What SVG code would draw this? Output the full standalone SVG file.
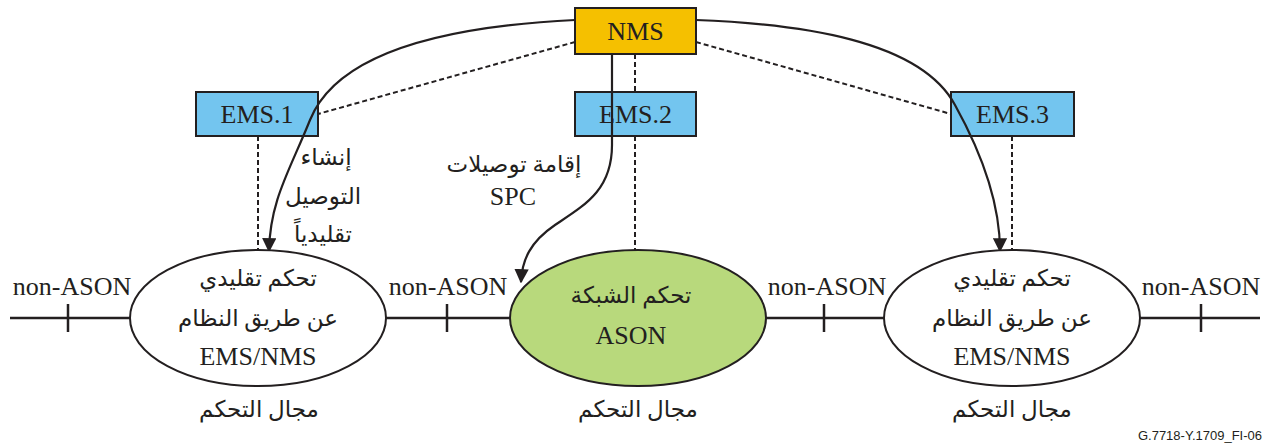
<svg xmlns="http://www.w3.org/2000/svg" width="1270" height="446" viewBox="0 0 1270 446">
  <style>
    .box { stroke: #231f20; stroke-width: 2; }
    .nms { fill: #f5c000; }
    .ems { fill: #73c5ef; }
    .ell { fill: #ffffff; stroke: #231f20; stroke-width: 2; }
    .ason { fill: #b8d97c; stroke: #231f20; stroke-width: 2; }
    .lbl { font-family: "Liberation Serif", "DejaVu Serif", serif; font-size: 26px; fill: #231f20; text-anchor: middle; }
    .ar { font-family: "Liberation Serif", "DejaVu Sans", serif; font-size: 23px; fill: #231f20; text-anchor: middle; direction: rtl; }
    .solid { fill: none; stroke: #231f20; stroke-width: 2.2; }
    .dash { fill: none; stroke: #231f20; stroke-width: 2; stroke-dasharray: 5 3; }
    .line { fill: none; stroke: #231f20; stroke-width: 2.5; }
    .ref { font-family: "Liberation Sans", Arial, sans-serif; font-size: 13px; fill: #231f20; text-anchor: end; }
  </style>
  <defs>
    <marker id="arrow" viewBox="0 0 10 10" refX="9" refY="5" markerWidth="6.5" markerHeight="6.5" markerUnits="strokeWidth" orient="auto">
      <path d="M0,0 L10,5 L0,10 z" fill="#231f20"/>
    </marker>
  </defs>

  <!-- transport line with domain boundaries -->
  <g id="transport">
    <line class="line" x1="10" y1="318" x2="1260" y2="318"/>
    <line class="line" x1="68" y1="304" x2="68" y2="332"/>
    <line class="line" x1="447" y1="304" x2="447" y2="332"/>
    <line class="line" x1="824" y1="304" x2="824" y2="332"/>
    <line class="line" x1="1201" y1="304" x2="1201" y2="332"/>
    <text class="lbl" x="72" y="295">non-ASON</text>
    <text class="lbl" x="448" y="295">non-ASON</text>
    <text class="lbl" x="827" y="295">non-ASON</text>
    <text class="lbl" x="1201" y="295">non-ASON</text>
  </g>

  <g id="nms">
    <rect class="box nms" x="575" y="8" width="121" height="46"/>
    <text class="lbl" x="635.5" y="40">NMS</text>
  </g>
  <g id="ems1">
    <rect class="box ems" x="196" y="92" width="122" height="44"/>
    <text class="lbl" x="257" y="123">EMS.1</text>
  </g>
  <g id="ems2">
    <rect class="box ems" x="575" y="92" width="121" height="44"/>
    <text class="lbl" x="635.5" y="123">EMS.2</text>
  </g>
  <g id="ems3">
    <rect class="box ems" x="951" y="92" width="123" height="44"/>
    <text class="lbl" x="1012.5" y="123">EMS.3</text>
  </g>

  <!-- connectors -->
  <g id="connectors">
    <line class="dash" x1="575" y1="42" x2="318" y2="114"/>
    <line class="dash" x1="696" y1="42" x2="951" y2="114"/>
    <line class="dash" x1="635" y1="54" x2="635" y2="92"/>
    <line class="dash" x1="258" y1="136" x2="258" y2="250"/>
    <line class="dash" x1="635" y1="136" x2="635" y2="250"/>
    <line class="dash" x1="1012" y1="136" x2="1012" y2="250"/>
    <path class="solid" marker-end="url(#arrow)" d="M575,20 C470,25 340,45 310,120 C290,170 270,200 269,251"/>
    <path class="solid" marker-end="url(#arrow)" d="M696,20 C800,24 920,40 955,105 C980,150 1000,200 1000,251"/>
    <path class="solid" marker-end="url(#arrow)" d="M612,54 L612,145 C612,190 585,205 555,225 C530,242 522,260 521,282"/>
  </g>

  <g id="label-conventional">
    <text class="ar" x="326" y="165">إنشاء</text>
    <text class="ar" x="323" y="204">التوصيل</text>
    <text class="ar" x="323" y="242">تقليدياً</text>
  </g>
  <g id="label-spc">
    <text class="ar" x="514" y="172">إقامة توصيلات</text>
    <text class="lbl" x="513" y="205">SPC</text>
  </g>

  <g id="domain-left">
    <ellipse class="ell" cx="258" cy="318" rx="128" ry="68"/>
    <text class="ar" x="258" y="286">تحكم تقليدي</text>
    <text class="ar" x="258" y="326">عن طريق النظام</text>
    <text class="lbl" x="258" y="365">EMS/NMS</text>
    <text class="ar" x="259" y="417">مجال التحكم</text>
  </g>
  <g id="domain-ason">
    <ellipse class="ason" cx="638" cy="318" rx="128" ry="68"/>
    <text class="ar" x="631" y="303">تحكم الشبكة</text>
    <text class="lbl" x="631" y="344">ASON</text>
    <text class="ar" x="638" y="417">مجال التحكم</text>
  </g>
  <g id="domain-right">
    <ellipse class="ell" cx="1012" cy="318" rx="128" ry="68"/>
    <text class="ar" x="1012" y="286">تحكم تقليدي</text>
    <text class="ar" x="1012" y="326">عن طريق النظام</text>
    <text class="lbl" x="1012" y="365">EMS/NMS</text>
    <text class="ar" x="1012" y="417">مجال التحكم</text>
  </g>

  <text class="ref" x="1262" y="440">G.7718-Y.1709_FI-06</text>
</svg>
